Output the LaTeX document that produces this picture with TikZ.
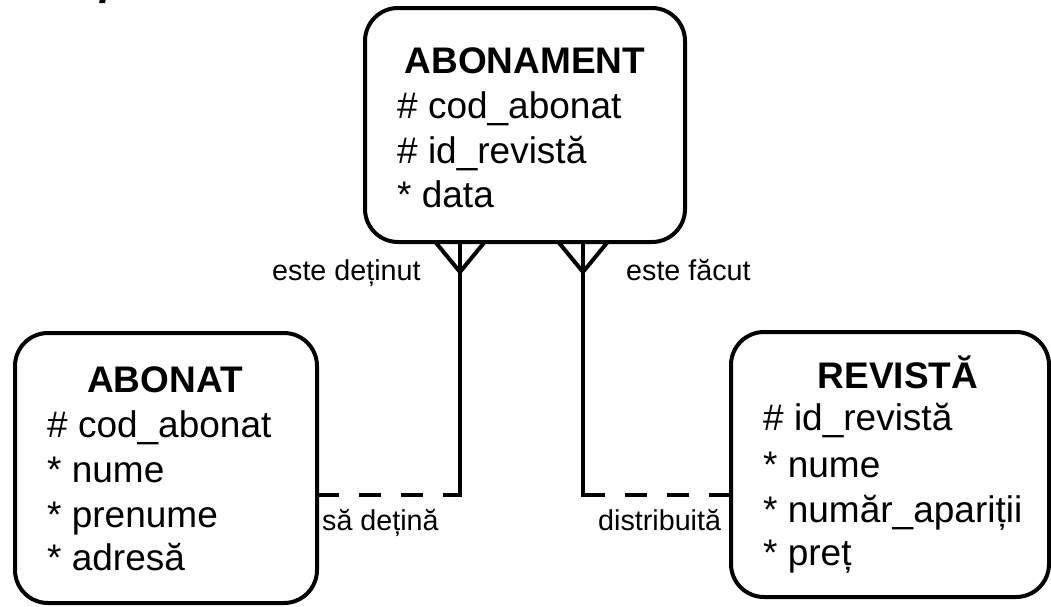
\documentclass[tikz,border=0pt]{standalone}
\usepackage{fontspec}
\setmainfont{Liberation Sans}
\begin{document}
\begin{tikzpicture}[x=1pt,y=-1pt,
  entity/.style={draw, line width=4pt, rounded corners=33pt, inner sep=0pt},
  etitle/.style={anchor=base, inner sep=0pt, font=\fontsize{37}{44}\selectfont\bfseries},
  attr/.style={anchor=base west, inner sep=0pt, font=\fontsize{37}{44}\selectfont},
  rlabel/.style={anchor=base west, inner sep=0pt, font=\fontsize{28.7}{34}\selectfont},
  rel/.style={line width=4pt, line cap=rect},
  optional/.style={rel, dash pattern=on 18pt off 24pt}]
\useasboundingbox (0,0) rectangle (1051,606);

% heading, mostly above the page
\node[anchor=base west, inner sep=0pt, font=\fontsize{44}{50}\selectfont\bfseries\itshape] (heading) at (-17,-6) {Exemplu:};

% entities
\node[entity, minimum width=320pt, minimum height=234pt] (abonament) at (525,125) {};
\node[entity, minimum width=302pt, minimum height=270pt] (abonat) at (166,468) {};
\node[entity, minimum width=318pt, minimum height=265pt] (revista) at (890,464.5) {};

% ABONAMENT
\node[etitle] (t1) at (525,73) {ABONAMENT};
\node[attr] (a11) at (397,118) {\# cod\_abonat};
\node[attr] (a12) at (397,163) {\# id\_revistă};
\node[attr] (a13) at (397,207) {* data};

% ABONAT
\node[etitle] (t2) at (165,392) {ABONAT};
\node[attr] (a21) at (47,437) {\# cod\_abonat};
\node[attr] (a22) at (47,482) {* nume};
\node[attr] (a23) at (47,527) {* prenume};
\node[attr] (a24) at (47,570) {* adresă};

% REVISTA
\node[etitle] (t3) at (898,388) {REVISTĂ};
\node[attr] (a31) at (763,430) {\# id\_revistă};
\node[attr] (a32) at (763,477) {* nume};
\node[attr] (a33) at (763,522) {* număr\_apariții};
\node[attr] (a34) at (763,565) {* preț};

% relationship corners
\coordinate (lc) at (460,495);
\coordinate (rc) at (583,495);

% ABONAT -- ABONAMENT
\draw[rel] (lc |- abonament.south) -- (lc);
\draw[rel] (lc |- abonament.south) ++(-23,0) -- ++(23,28) -- ++(23,-28);
\draw[optional] (abonat.east |- lc) -- (lc);

% REVISTA -- ABONAMENT
\draw[rel] (rc |- abonament.south) -- (rc);
\draw[rel] (rc |- abonament.south) ++(-23,0) -- ++(23,28) -- ++(23,-28);
\draw[optional] (revista.west |- rc) -- (rc);

% relationship labels
\node[rlabel] (l1) at (272,280) {este deținut};
\node[rlabel] (l2) at (626,280) {este făcut};
\node[rlabel] (l3) at (322,530) {să dețină};
\node[rlabel] (l4) at (598,530) {distribuită};
\end{tikzpicture}
\end{document}
